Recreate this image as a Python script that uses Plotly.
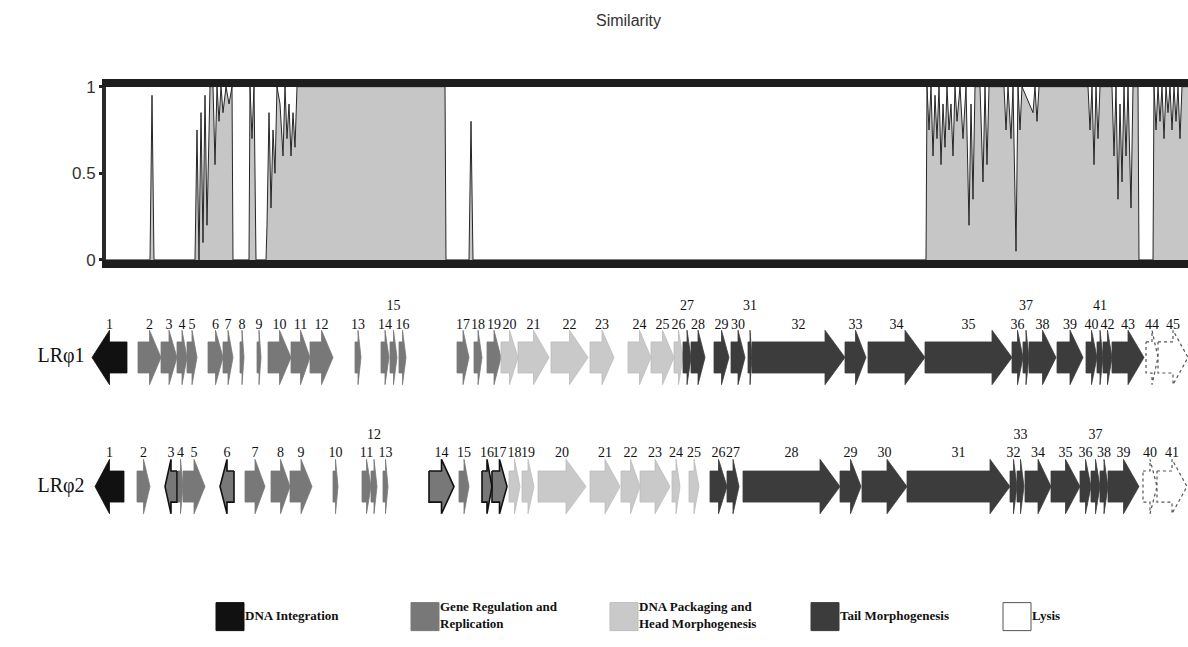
import plotly.graph_objects as go

# ------------------------------------------------------------------
# DATA
# ------------------------------------------------------------------
# Similarity profile along the genome (position, similarity 0..1)
sim_pos = [106, 150, 152, 154, 195, 197, 199, 201, 203, 205, 207, 209,
           210, 213, 215, 217, 219, 221, 223, 226, 229, 232, 233,
           249, 250, 252, 254, 256, 266,
           267, 269, 271, 273, 275, 277, 280, 283, 285, 287, 289, 291, 293, 295, 297, 445, 446,
           469, 471, 473, 926,
           927, 929, 931, 933, 935, 937, 939, 941, 943, 945, 947, 949, 951, 953, 955, 957, 960,
           963, 966, 969, 971, 973, 975, 980, 983, 985, 987, 989, 1004, 1006, 1008, 1011, 1013,
           1016, 1018, 1020, 1022, 1033, 1035, 1037, 1039, 1088, 1090, 1092, 1094, 1096, 1098,
           1100, 1112, 1114, 1116, 1118, 1120, 1122, 1124, 1126, 1128, 1131, 1133, 1138, 1139,
           1153, 1154, 1156, 1158, 1160, 1162, 1164, 1166, 1168, 1170, 1172, 1174, 1176, 1178,
           1180, 1182, 1188]
sim_val = [0, 0, 0.95, 0, 0, 0.75, 0, 0.85, 0.1, 0.95, 0.2, 0.9,
           1, 1, 0.55, 1, 0.8, 1, 0.85, 1, 0.9, 1, 0,
           0, 1, 0.7, 1, 0, 0,
           0.2, 0.85, 0.3, 0.75, 0.5, 1, 0.9, 0.6, 1, 0.7, 0.9, 0.6, 0.85, 0.65, 1, 1, 0,
           0, 0.8, 0, 0,
           1, 0.75, 1, 0.6, 0.95, 0.7, 1, 0.55, 0.9, 0.65, 1, 0.75, 0.9, 0.6, 1, 0.8, 1,
           0.7, 1, 0.2, 0.9, 0.35, 1, 1, 0.45, 1, 0.55, 1, 1, 0.75, 1, 0.7, 1,
           0.05, 1, 0.75, 1, 0.85, 1, 0.8, 1, 1, 0.75, 1, 0.55, 1, 0.7,
           1, 1, 0.6, 1, 0.35, 0.9, 0.45, 1, 0.6, 1, 0.3, 1, 1, 0,
           0, 1, 0.75, 1, 0.8, 1, 0.7, 1, 0.85, 1, 0.75, 1, 0.8, 1,
           0.7, 1, 1]

# Genome map of LRphi1 (gene start, end, strand, functional class)
lr1_start = [92, 138, 161, 177, 187, 208, 223, 240, 257, 268, 291, 310, 355, 381, 390, 399,
             457, 474, 487, 501, 518, 551, 590, 628, 651, 674, 683, 691, 714, 731, 748, 752,
             845, 868, 925, 1012, 1023, 1029, 1057, 1086, 1097, 1103, 1112, 1146, 1158]
lr1_end = [127, 161, 177, 187, 197, 223, 233, 244, 261, 291, 310, 333, 361, 389, 397, 406,
           469, 482, 501, 518, 549, 588, 614, 651, 674, 683, 691, 705, 729, 745, 752, 845,
           866, 925, 1012, 1023, 1029, 1056, 1083, 1097, 1103, 1112, 1144, 1158, 1188]
lr1_strand = [-1] + [1] * 44
lr1_class = (["I"] + ["R"] * 18 + ["P"] * 7 + ["T"] * 17 + ["L"] * 2)
lr1_raised = [15, 27, 31, 37, 41]

# Genome map of LRphi2
lr2_start = [95, 137, 165, 178, 183, 220, 245, 271, 290, 333, 362, 371, 383, 429, 459, 482,
             492, 509, 522, 538, 590, 621, 640, 672, 689, 710, 727, 743, 840, 862, 907, 1010,
             1017, 1025, 1051, 1080, 1091, 1100, 1108, 1143, 1157]
lr2_end = [124, 150, 177, 183, 205, 234, 265, 290, 312, 338, 371, 377, 388, 454, 469, 492,
           507, 520, 534, 586, 620, 640, 670, 680, 699, 727, 739, 840, 861, 907, 1010, 1017,
           1024, 1051, 1080, 1091, 1100, 1108, 1139, 1157, 1187]
lr2_strand = [-1, 1, -1, 1, 1, -1] + [1] * 35
lr2_class = (["I"] + ["R"] * 16 + ["P"] * 8 + ["T"] * 14 + ["L"] * 2)
lr2_raised = [12, 33, 37]
lr2_outlined = [3, 6, 14, 16, 17]

class_keys = ["I", "R", "P", "T", "L"]
class_names = ["DNA Integration", "Gene Regulation and<br>Replication",
               "DNA Packaging and<br>Head Morphogenesis", "Tail Morphogenesis", "Lysis"]

# ------------------------------------------------------------------
# STYLE / LAYOUT
# ------------------------------------------------------------------
W, H = 1188, 647
FILL = {"I": "#111111", "R": "#787878", "P": "#c9c9c9", "T": "#3c3c3c", "L": "#ffffff"}
EDGE = {"I": "#111111", "R": "#787878", "P": "#bdbdbd", "T": "#3c3c3c", "L": "#555555"}
BODY, HEAD, HEAD_LEN = 16, 28, 20
ROWS = [
    dict(name="LRφ1", start=lr1_start, end=lr1_end, strand=lr1_strand, cls=lr1_class,
         raised=lr1_raised, outlined=[], center=359, label=326, upper=306),
    dict(name="LRφ2", start=lr2_start, end=lr2_end, strand=lr2_strand, cls=lr2_class,
         raised=lr2_raised, outlined=lr2_outlined, center=492, label=458, upper=439),
]
LEG_Y = 626
LEG_X = [230, 425, 624, 825, 1017]
SERIF = "Liberation Serif, Times New Roman, serif"
SANS = "Liberation Sans, Arial, sans-serif"

fig = go.Figure()

# similarity panel
fig.add_trace(go.Scatter(x=sim_pos, y=sim_val, mode="lines", fill="tozeroy",
                         fillcolor="#c6c6c6", line=dict(color="#262626", width=1),
                         xaxis="x", yaxis="y", hoverinfo="skip"))


def arrow_xy(s, e, strand, yc):
    length = e - s
    hl = min(HEAD_LEN, 0.5 * length)
    if strand > 0:
        b = e - hl
        xs = [s, b, b, e, b, b, s, s]
    else:
        b = s + hl
        xs = [e, b, b, s, b, b, e, e]
    ys = [yc - BODY, yc - BODY, yc - HEAD, yc, yc + HEAD, yc + BODY, yc + BODY, yc - BODY]
    return xs, ys


for row in ROWS:
    n = len(row["start"])
    for outlined_pass in (False, True):
        for key in class_keys:
            xs, ys = [], []
            for i in range(n):
                if row["cls"][i] != key:
                    continue
                if ((i + 1) in row["outlined"]) != outlined_pass:
                    continue
                ax, ay = arrow_xy(row["start"][i], row["end"][i], row["strand"][i], row["center"])
                xs += ax + [None]
                ys += ay + [None]
            if not xs:
                continue
            if outlined_pass:
                line = dict(color="#111111", width=1.6)
            elif key == "L":
                line = dict(color=EDGE[key], width=1.2, dash="dot")
            else:
                line = dict(color=EDGE[key], width=0.8)
            fig.add_trace(go.Scatter(x=xs, y=ys, mode="lines", fill="toself",
                                     fillcolor=FILL[key], line=line,
                                     xaxis="x2", yaxis="y2", hoverinfo="skip"))
    # gene numbers
    lx, ly, lt = [], [], []
    for i in range(n):
        lx.append((row["start"][i] + row["end"][i]) / 2)
        ly.append(row["upper"] if (i + 1) in row["raised"] else row["label"])
        lt.append(str(i + 1))
    fig.add_trace(go.Scatter(x=lx, y=ly, text=lt, mode="text", cliponaxis=False,
                             textfont=dict(family=SERIF, size=14, color="#111111"),
                             xaxis="x2", yaxis="y2", hoverinfo="skip"))
    # phage name
    fig.add_trace(go.Scatter(x=[61], y=[row["center"]], text=[row["name"]], mode="text",
                             cliponaxis=False,
                             textfont=dict(family=SERIF, size=20, color="#111111"),
                             xaxis="x2", yaxis="y2", hoverinfo="skip"))

# legend
fig.add_trace(go.Scatter(x=LEG_X, y=[LEG_Y] * 5, mode="markers", cliponaxis=False,
                         marker=dict(symbol="square", size=28,
                                     color=[FILL[k] for k in class_keys],
                                     line=dict(color=[EDGE[k] for k in class_keys], width=1)),
                         xaxis="x2", yaxis="y2", hoverinfo="skip"))
fig.add_trace(go.Scatter(x=[x + 15 for x in LEG_X], y=[LEG_Y] * 5,
                         text=["<b>" + t.replace("<br>", "</b><br><b>") + "</b>" for t in class_names],
                         mode="text", textposition="middle right", cliponaxis=False,
                         textfont=dict(family=SERIF, size=13, color="#111111"),
                         xaxis="x2", yaxis="y2", hoverinfo="skip"))

top_px, bot_px, left_px = 80, 258.5, 106
fig.update_layout(
    width=W, height=H, autosize=False,
    margin=dict(l=0, r=0, t=0, b=0),
    paper_bgcolor="white", plot_bgcolor="rgba(0,0,0,0)",
    showlegend=False,
    xaxis=dict(domain=[left_px / W, 1], range=[left_px, W], showgrid=False, zeroline=False,
               showticklabels=False, ticks="", showline=True, mirror=True,
               linewidth=8, linecolor="#1e1e1e"),
    yaxis=dict(domain=[(H - bot_px) / H, (H - top_px) / H], range=[0, 1],
               showgrid=False, zeroline=False, showline=True, linewidth=4,
               linecolor="#2a2a2a", tickvals=[0, 0.5, 1], ticktext=["0", "0.5", "1"],
               ticks="outside", ticklen=3, tickwidth=3, tickcolor="#222",
               tickfont=dict(family=SANS, size=17, color="#333333")),
    xaxis2=dict(domain=[0, 1], range=[0, W], visible=False, anchor="y2"),
    yaxis2=dict(domain=[0, 1], range=[H, 0], visible=False, anchor="x2"),
    annotations=[dict(text="Similarity", x=628 / W, y=1 - 12 / H, xref="paper", yref="paper",
                      xanchor="center", yanchor="middle", showarrow=False,
                      font=dict(family=SANS, size=16, color="#333333"))],
)

fig.write_html("out.html")
